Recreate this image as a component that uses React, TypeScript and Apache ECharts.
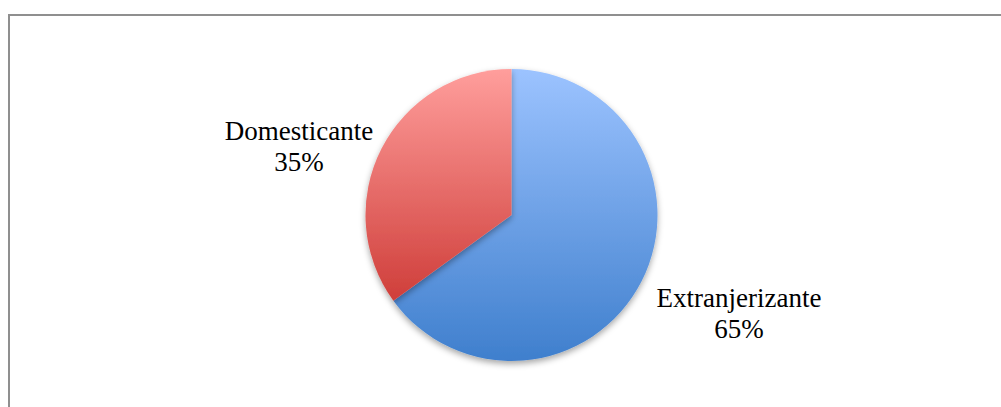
import React, { useEffect, useRef } from "react";
import * as echarts from "echarts";

const categories: string[] = ["Extranjerizante", "Domesticante"];
const values: number[] = [65, 35];

const gradients = [
  ["#9cc3ff", "#3f7fcd"],
  ["#ff9e9c", "#cf3e3a"],
];

// label offsets relative to the pie centre (layout only)
const labelOffsets = [
  [227.5, 98],
  [-212.5, -69],
];

export default function App() {
  const ref = useRef<HTMLDivElement>(null);
  useEffect(() => {
    document.body.style.margin = "0";
    if (!ref.current) return;
    const chart = echarts.init(ref.current, undefined, { renderer: "svg" });
    const cx = 511.5;
    const cy = 215;
    chart.setOption({
      animation: false,
      backgroundColor: "#ffffff",
      graphic: [
        {
          type: "rect",
          shape: { x: 9, y: 15, width: 1010, height: 420 },
          style: { fill: "none", stroke: "#8f8f8f", lineWidth: 2 },
          silent: true,
        },
      ],
      series: [
        {
          type: "pie",
          center: [cx, cy],
          radius: 146,
          startAngle: 90,
          clockwise: true,
          data: categories.map((name, i) => ({
            name,
            value: values[i],
            itemStyle: {
              color: new echarts.graphic.LinearGradient(0, 0, 0, 1, [
                { offset: 0, color: gradients[i][0] },
                { offset: 1, color: gradients[i][1] },
              ]),
            },
          })),
          itemStyle: {
            borderWidth: 0,
            shadowBlur: 6,
            shadowOffsetY: 3,
            shadowColor: "rgba(0,0,0,0.35)",
          },
          label: {
            show: true,
            formatter: "{b}\n{d}%",
            fontFamily: "Liberation Serif",
            fontSize: 27,
            lineHeight: 31,
            color: "#000000",
            align: "center",
          },
          labelLine: { show: false },
          labelLayout: (params: any) => {
            const o = labelOffsets[params.dataIndex];
            return {
              x: cx + o[0],
              y: cy + o[1],
              align: "center",
              verticalAlign: "middle",
            };
          },
          emphasis: { disabled: true },
        },
      ],
    });
    return () => chart.dispose();
  }, []);
  return (
    <div
      ref={ref}
      style={{ position: "absolute", left: 0, top: 0, width: 1001, height: 407 }}
    />
  );
}
